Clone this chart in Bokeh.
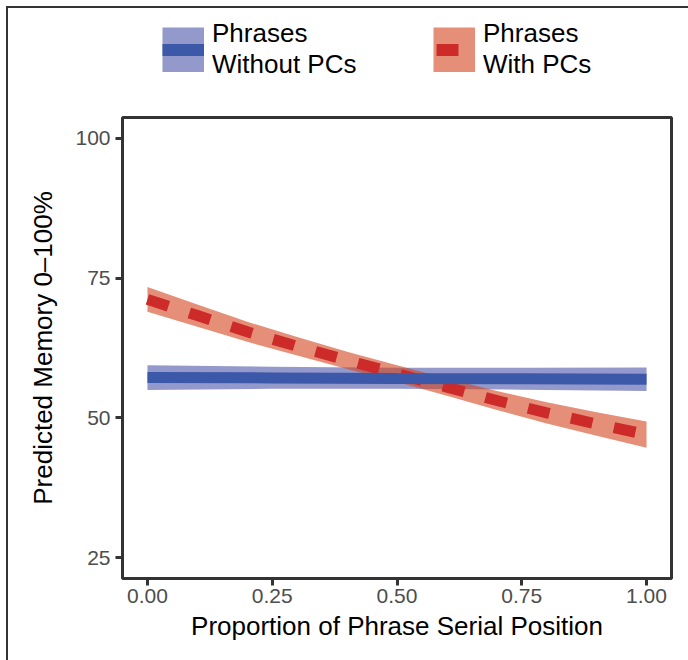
from bokeh.plotting import figure
from bokeh.models import Legend, LegendItem, FixedTicker, Range1d
from bokeh.layouts import column
from bokeh.embed import file_html
from bokeh.resources import INLINE

# ---- data ----
pos_blue = [0.0, 0.25, 0.5, 0.75, 1.0]
mem_blue = [57.2, 57.15, 57.05, 57.0, 56.9]
lower_blue = [55.0, 55.2, 55.2, 55.05, 54.8]
upper_blue = [59.4, 59.15, 58.95, 58.95, 59.0]

pos_red = [0.0, 0.1, 0.2, 0.3, 0.4, 0.5, 0.6, 0.7, 0.8, 0.9, 1.0]
mem_red = [71.2, 68.3, 65.4, 62.8, 60.3, 57.9, 55.5, 53.1, 50.9, 48.9, 47.0]
lower_red = [69.0, 66.3, 63.6, 61.15, 58.75, 56.4, 53.95, 51.4, 49.0, 46.8, 44.65]
upper_red = [73.4, 70.3, 67.2, 64.45, 61.85, 59.4, 57.05, 54.8, 52.8, 51.0, 49.35]

x_ticks = [0.0, 0.25, 0.5, 0.75, 1.0]
x_tick_labels = {0.0: "0.00", 0.25: "0.25", 0.5: "0.50", 0.75: "0.75", 1.0: "1.00"}
y_ticks = [25, 50, 75, 100]

label_blue = "Phrases\nWithout PCs"
label_red = "Phrases\nWith PCs"
x_title = "Proportion of Phrase Serial Position"
y_title = "Predicted Memory 0\u2013100%"

FONT = "Liberation Sans"
BLUE_BAND, RED_BAND = "#4D55A8", "#D4441E"
BLUE_LINE, RED_LINE = "#3C58A8", "#CD2A2A"
RED_DASH = "22 22"

frame_line = "linear-gradient(#333333, #333333)"

# ---------- legend strip (top) ----------
# The series are drawn here only to feed the legend keys; the strip's
# ranges keep them out of view so that only the legend shows.
leg = figure(width=688, height=115, output_backend="svg", toolbar_location=None,
             x_axis_type=None, y_axis_type=None,
             x_range=Range1d(10, 11), y_range=Range1d(500, 600),
             min_border=0, min_border_left=0, min_border_right=0, min_border_top=0, min_border_bottom=0)
leg.outline_line_color = None
leg.background_fill_alpha = 0
leg.border_fill_alpha = 0
leg.xgrid.visible = False
leg.ygrid.visible = False
leg.styles = {
    "background-color": "white",
    "background-image": f"{frame_line}, {frame_line}",
    "background-size": "2px 100%, 100% 2px",
    "background-position": "6px 6px, 6px 6px",
    "background-repeat": "no-repeat",
}
# band keys as wide strokes so the key square fills the whole key box
kb = leg.line(x=pos_blue, y=mem_blue, line_color=BLUE_BAND, line_alpha=0.6, line_width=45)
kbl = leg.line(x=pos_blue, y=mem_blue, line_color=BLUE_LINE, line_width=12)
kr = leg.line(x=pos_red, y=mem_red, line_color=RED_BAND, line_alpha=0.6, line_width=45)
krl = leg.line(x=pos_red, y=mem_red, line_color=RED_LINE, line_width=12,
               line_dash=RED_DASH, line_dash_offset=41)

legend = Legend(items=[LegendItem(label=label_blue, renderers=[kb, kbl]),
                       LegendItem(label=label_red, renderers=[kr, krl])],
                location=(40, 35), orientation="horizontal",
                glyph_width=42, glyph_height=45, label_standoff=8, spacing=75, label_width=146,
                padding=0, margin=0, border_line_color=None, background_fill_alpha=0,
                label_text_font=FONT, label_text_font_size="26px", label_text_color="black",
                label_text_line_height=1.0)
leg.add_layout(legend, "center")

# ---------- main plot ----------
p = figure(width=688, height=545, output_backend="svg", toolbar_location=None,
           x_range=Range1d(-0.05, 1.05), y_range=Range1d(21.25, 103.75),
           min_border_left=122, min_border_right=17, min_border_top=2, min_border_bottom=82)

p.background_fill_color = "white"
p.border_fill_alpha = 0
p.styles = {
    "background-color": "white",
    "background-image": frame_line,
    "background-size": "2px 100%",
    "background-position": "6px 0px",
    "background-repeat": "no-repeat",
}
p.outline_line_color = "#333333"
p.outline_line_width = 3
p.xgrid.visible = False
p.ygrid.visible = False

band_b = p.varea(x=pos_blue, y1=lower_blue, y2=upper_blue, fill_color=BLUE_BAND, fill_alpha=0.6)
band_r = p.varea(x=pos_red, y1=lower_red, y2=upper_red, fill_color=RED_BAND, fill_alpha=0.6)
line_r = p.line(x=pos_red, y=mem_red, line_color=RED_LINE, line_width=11, line_dash=RED_DASH)
line_b = p.line(x=pos_blue, y=mem_blue, line_color=BLUE_LINE, line_width=11)

for ax in (p.xaxis[0], p.yaxis[0]):
    ax.axis_line_color = None
    ax.major_tick_line_color = "#333333"
    ax.major_tick_line_width = 3
    ax.major_tick_out = 7
    ax.major_tick_in = 0
    ax.minor_tick_line_color = None
    ax.major_label_text_font = FONT
    ax.major_label_text_font_size = "21px"
    ax.major_label_text_color = "#4D4D4D"
    ax.axis_label_text_font = FONT
    ax.axis_label_text_font_size = "26px"
    ax.axis_label_text_font_style = "normal"
    ax.axis_label_text_color = "black"

p.xaxis.ticker = FixedTicker(ticks=x_ticks)
p.xaxis.major_label_overrides = x_tick_labels
p.xaxis.major_label_standoff = 3
p.xaxis.axis_label = x_title
p.xaxis.axis_label_standoff = 5

p.yaxis.ticker = FixedTicker(ticks=y_ticks)
p.yaxis.major_label_standoff = 5
p.yaxis.axis_label = y_title
p.yaxis.axis_label_standoff = 14

layout = column(leg, p, spacing=0)
open("out.html", "w").write(file_html(layout, INLINE))
